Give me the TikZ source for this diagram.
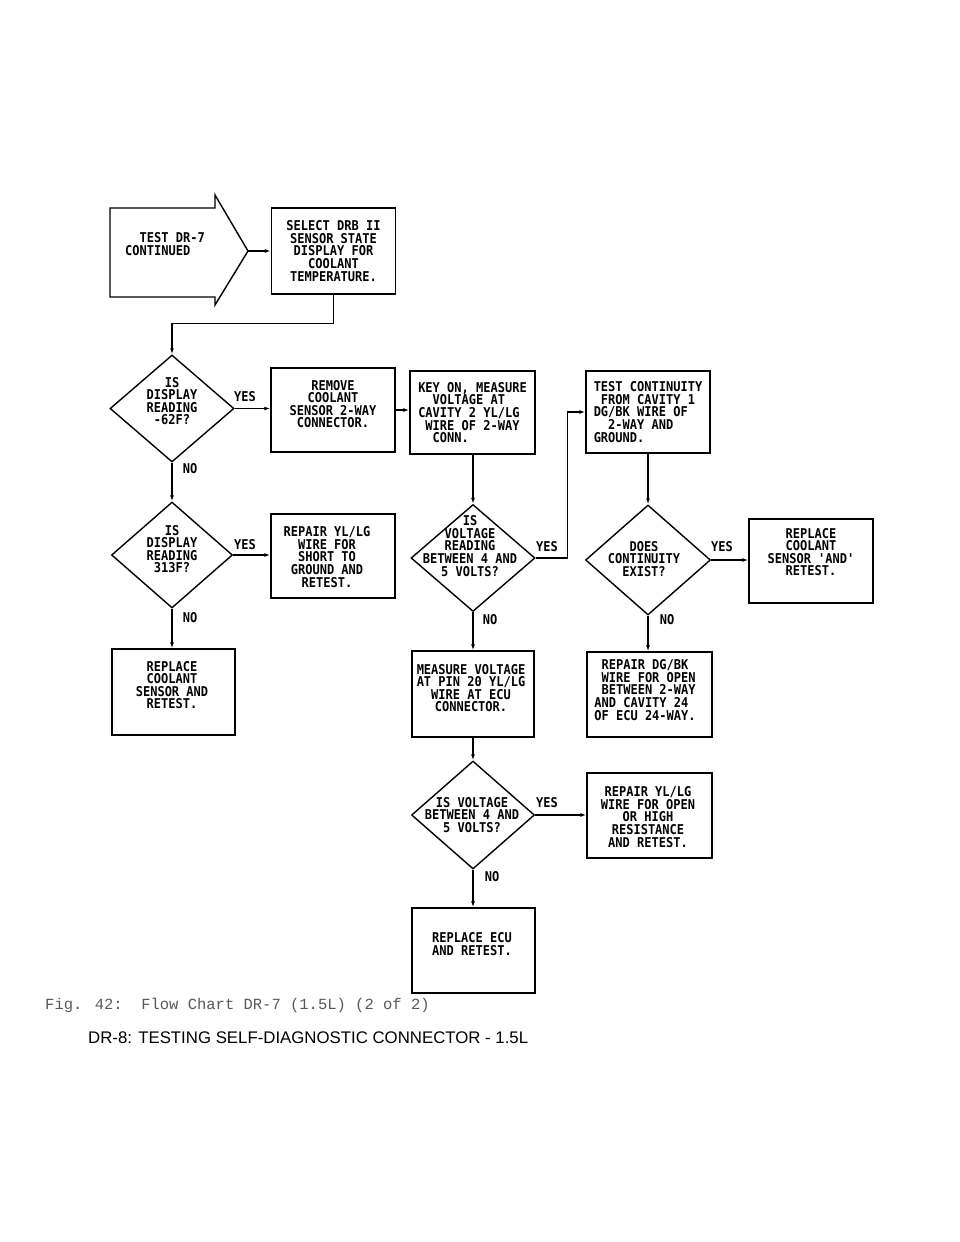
\documentclass[tikz,border=0pt]{standalone}
\usepackage{fontspec}
\usetikzlibrary{shapes.geometric,arrows.meta}
\newfontfamily\plotfont[FakeStretch=0.89]{DejaVu Sans Mono}
\newfontfamily\capfont{Liberation Mono}
\newfontfamily\headfont{Liberation Sans}
\tikzset{
  chart/.style={font={\plotfont\bfseries\fontsize{13.5}{12.6}\selectfont}},
  box/.style={draw, line width=1.4pt, minimum width=124pt, minimum height=84pt, inner sep=0pt, align=center},
  decision/.style={draw, diamond, line width=1.4pt, inner sep=0pt, minimum width=124pt, minimum height=107pt},
  dtext/.style={align=center, inner sep=0pt},
  answer/.style={inner sep=0pt},
  flow/.style={line width=1.4pt, -{Latex[length=6pt,width=4pt]}}
}
\begin{document}
\begin{tikzpicture}[x=1pt,y=-1pt,chart]
    \useasboundingbox (0,0) rectangle (960,1242);
    %% Start arrow
    \draw[line width=1.4pt] (110,208) -- (215,208) -- (215,195) -- (248,251) -- (215,305) -- (215,297) -- (110,297) -- cycle;
    \coordinate (tip) at (248,251);
    \node[dtext, align=left, anchor=west] (start) at (125,244) {~~TEST DR-7\\CONTINUED};
    %% Boxes
    \node[box, minimum height=86pt] (sel) at (333.5,251) {SELECT DRB II\\SENSOR STATE\\DISPLAY FOR\\COOLANT\\TEMPERATURE.};
    \node[box] (rem) at (333,410) {};
    \node[dtext] (remt) at (333,404) {REMOVE\\COOLANT\\SENSOR 2-WAY\\CONNECTOR.};
    \node[box, minimum width=125pt, minimum height=83pt] (key) at (472.5,412.5) {};
    \node[dtext, align=left] (keyt) at (key.center) {KEY ON, MEASURE\\~~VOLTAGE AT\\CAVITY 2 YL/LG\\~WIRE OF 2-WAY\\~~CONN.};
    \node[box, minimum height=82pt] (tc) at (648,412) {};
    \node[dtext, align=left] (tct) at (tc.center) {TEST CONTINUITY\\~FROM CAVITY 1\\DG/BK WIRE OF\\~~2-WAY AND\\GROUND.};
    \node[box] (rep) at (811,561) {};
    \node[dtext] (rept) at (811,552) {REPLACE\\COOLANT\\SENSOR 'AND'\\RETEST.};
    \node[box] (sh) at (333,556) {};
    \node[dtext] (sht) at (327,557) {REPAIR YL/LG\\WIRE FOR\\SHORT TO\\GROUND AND\\RETEST.};
    \node[box, minimum width=123pt, minimum height=86pt] (rc) at (173.5,692) {};
    \node[dtext] (rct) at (172,685) {REPLACE\\COOLANT\\SENSOR AND\\RETEST.};
    \node[box, minimum width=122pt, minimum height=86pt] (mv) at (473,694) {};
    \node[dtext] (mvt) at (471,688) {MEASURE VOLTAGE\\AT PIN 20 YL/LG\\WIRE AT ECU\\CONNECTOR.};
    \node[box, minimum width=125pt, minimum height=85pt] (dg) at (649.5,694.5) {};
    \node[dtext, align=left] (dgt) at (645,690) {~REPAIR DG/BK\\~WIRE FOR OPEN\\~BETWEEN 2-WAY\\AND CAVITY 24\\OF ECU 24-WAY.};
    \node[box, minimum width=125pt, minimum height=85pt] (op) at (649.5,815.5) {};
    \node[dtext] (opt) at (648,817) {REPAIR YL/LG\\WIRE FOR OPEN\\OR HIGH\\RESISTANCE\\AND RETEST.};
    \node[box, minimum width=123pt, minimum height=85pt] (ecu) at (473.5,950.5) {};
    \node[dtext, align=left, anchor=west] (ecut) at (432,944) {REPLACE ECU\\AND RETEST.};
    %% Decisions
    \node[decision] (d1) at (172,408.5) {};
    \node[dtext] (d1t) at (172,401) {IS\\DISPLAY\\READING\\-62F?};
    \node[decision, minimum width=121pt, minimum height=106pt] (d2) at (172,555) {};
    \node[dtext] (d2t) at (172,549) {IS\\DISPLAY\\READING\\313F?};
    \node[decision] (d3) at (473,558) {};
    \node[dtext] (d3t) at (470,546) {IS\\VOLTAGE\\READING\\BETWEEN 4 AND\\5 VOLTS?};
    \node[decision, minimum width=125pt, minimum height=110pt] (d4) at (648,560) {};
    \node[dtext] (d4t) at (644,559) {DOES\\CONTINUITY\\EXIST?};
    \node[decision, minimum width=123pt, minimum height=108pt] (d5) at (473,815) {};
    \node[dtext] (d5t) at (472,815) {IS VOLTAGE\\BETWEEN 4 AND\\5 VOLTS?};
    %% Answers
    \node[answer] (y1) at (245,397) {YES};
    \node[answer] (n1) at (190,469) {NO};
    \node[answer] (y2) at (245,545) {YES};
    \node[answer] (n2) at (190,618) {NO};
    \node[answer] (y3) at (547,547) {YES};
    \node[answer] (n3) at (490,620) {NO};
    \node[answer] (y4) at (722,547) {YES};
    \node[answer] (n4) at (667,620) {NO};
    \node[answer] (y5) at (547,803) {YES};
    \node[answer] (n5) at (492,877) {NO};
    %% Connectors
    \draw[flow] (tip) -- (sel.west);
    \draw[flow] (sel.south) -- ++(0,29) -| (d1.north);
    \draw[flow] (d1.east) -- (d1.east -| rem.west);
    \draw[flow] (rem.east) -- (rem.east -| key.west);
    \draw[flow] (d3.north |- key.south) -- (d3.north);
    \draw[flow] (d3.east) -- ++(32,0) |- (tc.west);
    \draw[flow] (tc.south) -- (d4.north);
    \draw[flow] (d4.east) -- (d4.east -| rep.west);
    \draw[flow] (d4.south) -- (d4.south |- dg.north);
    \draw[flow] (d1.south) -- (d2.north);
    \draw[flow] (d2.east) -- (d2.east -| sh.west);
    \draw[flow] (d2.south) -- (d2.south |- rc.north);
    \draw[flow] (d3.south) -- (d3.south |- mv.north);
    \draw[flow] (d5.north |- mv.south) -- (d5.north);
    \draw[flow] (d5.east) -- (d5.east -| op.west);
    \draw[flow] (d5.south) -- (d5.south |- ecu.north);
    %% Captions
    \node[anchor=west, inner sep=0pt, text=black!65, font={\capfont\fontsize{15.5}{16}\selectfont}] (fig) at (45,1005) {Fig. 42:\ \ Flow Chart DR-7 (1.5L) (2 of 2)};
    \node[anchor=west, inner sep=0pt, font={\headfont\fontsize{16.8}{18}\selectfont}] (head) at (88,1038) {DR-8: TESTING SELF-DIAGNOSTIC CONNECTOR - 1.5L};
\end{tikzpicture}
\end{document}
